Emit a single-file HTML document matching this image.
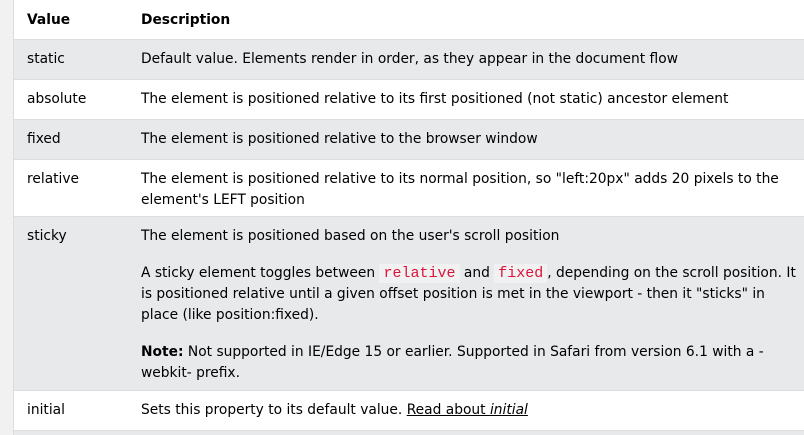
<!DOCTYPE html>
<html><head><style>
html,body{margin:0;padding:0;width:804px;height:435px;overflow:hidden;background:#fff;}
body{font-family:"DejaVu Sans","Liberation Sans",sans-serif;font-size:13.8px;color:#000;position:relative;}
.side{position:absolute;left:0;top:0;width:13px;height:435px;background:#f1f1f1;border-right:1px solid #ddd;}
.row{position:absolute;left:14px;width:790px;border-bottom:1px solid #dcdfe2;box-sizing:border-box;}
.g{background:#e7e9eb;}
.v{position:absolute;left:13px;}
.d{position:absolute;left:127px;right:8px;line-height:21px;}
code{font-family:"Liberation Mono","DejaVu Sans Mono",monospace;color:#dc143c;background:#f1f1f1;padding:1px 4px;font-size:15px;}
a{color:#000;text-decoration:underline;}
</style></head><body>
<div class="side"></div>
<div class="row" style="top:0;height:40px;"><div class="v" style="top:12px;font-weight:bold">Value</div><div class="d" style="top:12px;line-height:normal;font-weight:bold">Description</div></div>
<div class="row g" style="top:40px;height:40px;"><div class="v" style="top:11px">static</div><div class="d" style="top:9px">Default value. Elements render in order, as they appear in the document flow</div></div>
<div class="row" style="top:80px;height:40px;"><div class="v" style="top:11px">absolute</div><div class="d" style="top:9px">The element is positioned relative to its first positioned (not static) ancestor element</div></div>
<div class="row g" style="top:120px;height:40px;"><div class="v" style="top:11px">fixed</div><div class="d" style="top:9px">The element is positioned relative to the browser window</div></div>
<div class="row" style="top:160px;height:57px;"><div class="v" style="top:11px">relative</div><div class="d" style="top:9px">The element is positioned relative to its normal position, so "left:20px" adds 20 pixels to the element's LEFT position</div></div>
<div class="row g" style="top:217px;height:174px;"><div class="v" style="top:11px">sticky</div>
<div class="d" style="top:9px">The element is positioned based on the user's scroll position</div>
<div class="d" style="top:46px">A sticky element toggles between <code>relative</code> and <code>fixed</code>, depending on the scroll position. It is positioned relative until a given offset position is met in the viewport - then it "sticks" in place (like position:fixed).</div>
<div class="d" style="top:125px"><b>Note:</b> Not supported in IE/Edge 15 or earlier. Supported in Safari from version 6.1 with a -webkit- prefix.</div></div>
<div class="row" style="top:391px;height:40px;"><div class="v" style="top:11px">initial</div><div class="d" style="top:9px">Sets this property to its default value. <a>Read about <i>initial</i></a></div></div>
<div class="row g" style="top:431px;height:10px;"></div>
</body></html>
